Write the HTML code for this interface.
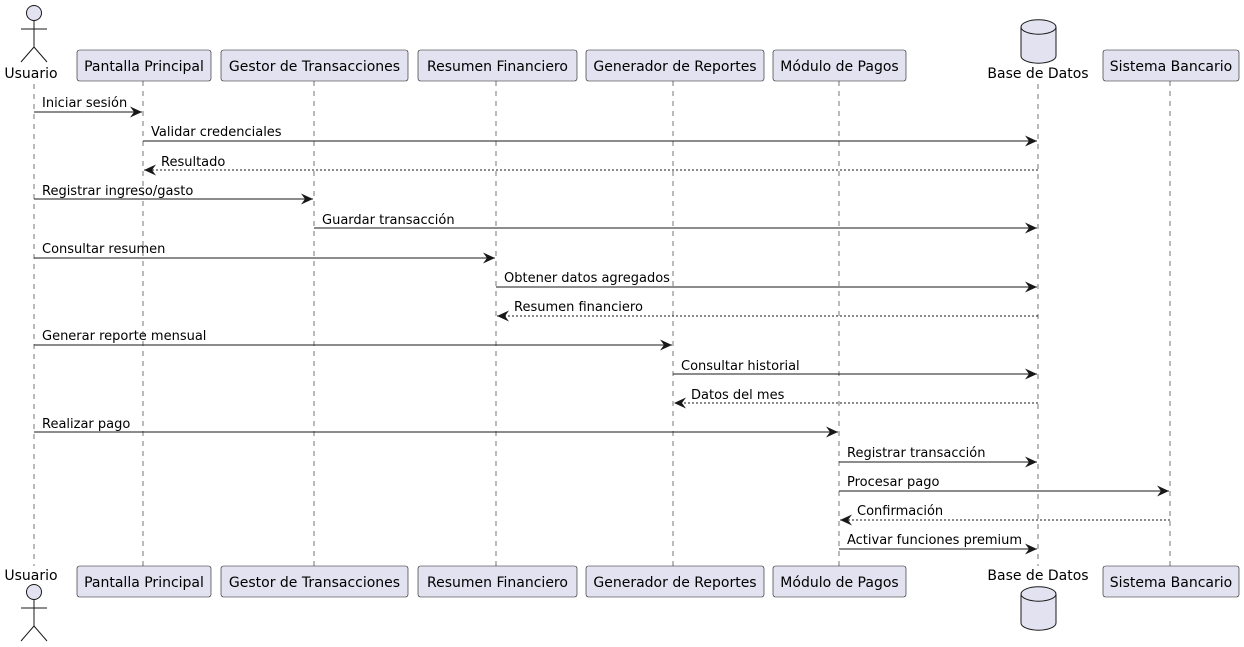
<!DOCTYPE html>
<html><head><meta charset="utf-8"><style>body{margin:0;background:#fff}svg{display:block}text{font-family:"DejaVu Sans","Liberation Sans",sans-serif;fill:#000}</style></head><body>
<svg width="1244" height="647" viewBox="0 0 1244 647" xmlns="http://www.w3.org/2000/svg">
<defs>
<marker id="a" markerWidth="13" markerHeight="11" refX="12" refY="5.5" orient="auto" markerUnits="userSpaceOnUse"><path d="M0,0 L12,5.5 L0,11 L4,5.5 Z" fill="#181818"/></marker>
</defs>
<g stroke="#555" stroke-width="0.8" stroke-dasharray="5,5">
<line x1="34" y1="84" x2="34" y2="566"/><line x1="143" y1="81" x2="143" y2="566"/><line x1="314" y1="81" x2="314" y2="566"/><line x1="496" y1="81" x2="496" y2="566"/><line x1="673" y1="81" x2="673" y2="566"/><line x1="839" y1="81" x2="839" y2="566"/><line x1="1038" y1="84" x2="1038" y2="566"/><line x1="1170" y1="81" x2="1170" y2="566"/>
</g>
<g fill="#E2E2F0" stroke="#181818" stroke-width="0.6">
<rect x="77" y="50" width="134" height="31" rx="2.5"/><rect x="221" y="50" width="187" height="31" rx="2.5"/><rect x="418" y="50" width="159" height="31" rx="2.5"/><rect x="586" y="50" width="178" height="31" rx="2.5"/><rect x="773" y="50" width="133" height="31" rx="2.5"/><rect x="1103" y="50" width="136" height="31" rx="2.5"/>
<rect x="77" y="566" width="134" height="31" rx="2.5"/><rect x="221" y="566" width="187" height="31" rx="2.5"/><rect x="418" y="566" width="159" height="31" rx="2.5"/><rect x="586" y="566" width="178" height="31" rx="2.5"/><rect x="773" y="566" width="133" height="31" rx="2.5"/><rect x="1103" y="566" width="136" height="31" rx="2.5"/>
</g>
<g font-size="14" text-anchor="middle">
<text x="144" y="71">Pantalla Principal</text><text x="314.5" y="71">Gestor de Transacciones</text><text x="497.5" y="71">Resumen Financiero</text><text x="675" y="71">Generador de Reportes</text><text x="839.5" y="71">Módulo de Pagos</text><text x="1171" y="71">Sistema Bancario</text>
<text x="144" y="587">Pantalla Principal</text><text x="314.5" y="587">Gestor de Transacciones</text><text x="497.5" y="587">Resumen Financiero</text><text x="675" y="587">Generador de Reportes</text><text x="839.5" y="587">Módulo de Pagos</text><text x="1171" y="587">Sistema Bancario</text>
<text x="31" y="78">Usuario</text><text x="1038" y="78">Base de Datos</text>
<text x="31" y="580">Usuario</text><text x="1038" y="580">Base de Datos</text>
</g>
<g fill="#E2E2F0" stroke="#181818" stroke-width="1">
<circle cx="34" cy="13" r="7.5"/><path d="M34,21 V47 M21,29 H47 M34,47 L21,62 M34,47 L47,62" fill="none"/>
<circle cx="34" cy="592" r="7.5"/><path d="M34,600 V626 M21,608 H47 M34,626 L21,641 M34,626 L47,641" fill="none"/>
<path d="M1021,27 A17,7 0 0 1 1056,27 V56 A17,7 0 0 1 1021,56 Z"/><path d="M1021,27 A17,7 0 0 0 1056,27" fill="none"/>
<path d="M1021,594 A17,7 0 0 1 1056,594 V623 A17,7 0 0 1 1021,623 Z"/><path d="M1021,594 A17,7 0 0 0 1056,594" fill="none"/>
</g>
<g stroke="#181818" stroke-width="1" marker-end="url(#a)">
<line x1="34" y1="112" x2="142" y2="112"/>
<line x1="143" y1="141" x2="1037" y2="141"/>
<line x1="1038" y1="170" x2="144" y2="170" stroke-dasharray="2,2"/>
<line x1="34" y1="199" x2="313" y2="199"/>
<line x1="314" y1="228" x2="1037" y2="228"/>
<line x1="34" y1="258" x2="495" y2="258"/>
<line x1="496" y1="287" x2="1037" y2="287"/>
<line x1="1038" y1="316" x2="497" y2="316" stroke-dasharray="2,2"/>
<line x1="34" y1="345" x2="672" y2="345"/>
<line x1="673" y1="374" x2="1037" y2="374"/>
<line x1="1038" y1="403" x2="674" y2="403" stroke-dasharray="2,2"/>
<line x1="34" y1="432" x2="838" y2="432"/>
<line x1="839" y1="462" x2="1037" y2="462"/>
<line x1="839" y1="491" x2="1169" y2="491"/>
<line x1="1170" y1="520" x2="840" y2="520" stroke-dasharray="2,2"/>
<line x1="839" y1="549" x2="1037" y2="549"/>
</g>
<g font-size="13">
<text x="42" y="107">Iniciar sesión</text>
<text x="151" y="136">Validar credenciales</text>
<text x="161" y="166">Resultado</text>
<text x="42" y="195">Registrar ingreso/gasto</text>
<text x="322" y="224">Guardar transacción</text>
<text x="42" y="253">Consultar resumen</text>
<text x="504" y="282">Obtener datos agregados</text>
<text x="514" y="311">Resumen financiero</text>
<text x="42" y="340">Generar reporte mensual</text>
<text x="681" y="370">Consultar historial</text>
<text x="691" y="399">Datos del mes</text>
<text x="42" y="428">Realizar pago</text>
<text x="847" y="457">Registrar transacción</text>
<text x="847" y="486">Procesar pago</text>
<text x="857" y="515">Confirmación</text>
<text x="847" y="544">Activar funciones premium</text>
</g>
</svg>
</body></html>
